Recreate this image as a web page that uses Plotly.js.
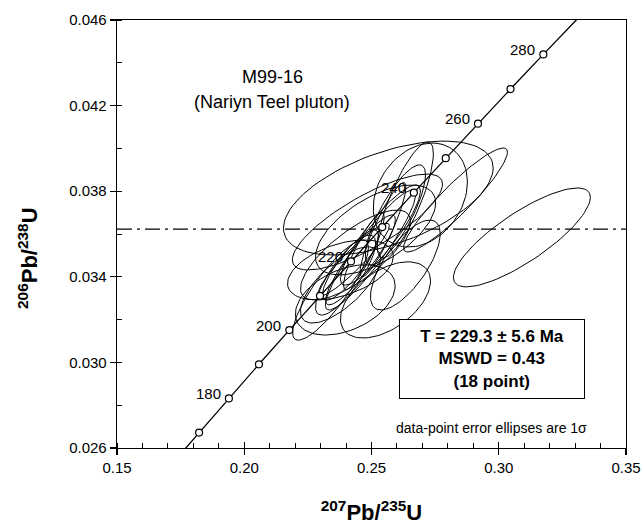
<!DOCTYPE html>
<html>
<head>
<meta charset="utf-8">
<script src="https://cdn.plot.ly/plotly-3.0.1.min.js"></script>
<style>html,body{margin:0;padding:0;background:#fff;}#chart{width:644px;height:525px;}</style>
</head>
<body>
<div id="chart"></div>
<script>
// Concordia age markers (Ma) and their ratios
const concAges = [160, 170, 180, 190, 200, 210, 220, 230, 240, 250, 260, 270, 280, 290];
const concX = [0.17067, 0.18226, 0.19396, 0.20577, 0.21771, 0.22976, 0.24193, 0.25422, 0.26664, 0.27917, 0.29183, 0.30462, 0.31753, 0.33057];
const concY = [0.025131, 0.026722, 0.028316, 0.029912, 0.031511, 0.033113, 0.034717, 0.036323, 0.037932, 0.039543, 0.041157, 0.042773, 0.044392, 0.046014];
const labelAges = [180, 200, 220, 240, 260, 280];

// Data-point error ellipses (1 sigma): centres, sigmas, correlation
const ellX   = [0.2566, 0.2484, 0.2378, 0.2397, 0.2555, 0.2830, 0.3091, 0.2692, 0.2633, 0.2594, 0.2496, 0.2457, 0.2417, 0.2535, 0.2398, 0.2437, 0.2378, 0.2516, 0.2339, 0.2633, 0.2545, 0.2470, 0.2430];
const ellY   = [0.03768, 0.03656, 0.03432, 0.03292, 0.03292, 0.03759, 0.03584, 0.03782, 0.03759, 0.03689, 0.03525, 0.03479, 0.03455, 0.03595, 0.03408, 0.03502, 0.03362, 0.03619, 0.03338, 0.03455, 0.03620, 0.03520, 0.03480];
const ellSx  = [0.0412, 0.0295, 0.0208, 0.0196, 0.0177, 0.0204, 0.0269, 0.0185, 0.0110, 0.0118, 0.0177, 0.0137, 0.0110, 0.0157, 0.0118, 0.0216, 0.0157, 0.0236, 0.0149, 0.0137, 0.0090, 0.0080, 0.0140];
const ellSy  = [0.00266, 0.00224, 0.00140, 0.00164, 0.00178, 0.00243, 0.00231, 0.00243, 0.00271, 0.00234, 0.00280, 0.00210, 0.00164, 0.00234, 0.00187, 0.00210, 0.00178, 0.00210, 0.00234, 0.00210, 0.00220, 0.00180, 0.00170];
const ellRho = [0.53, 0.79, 0.45, 0.40, 0.50, 0.92, 0.81, 0.25, 0.80, 0.80, 0.92, 0.90, 0.85, 0.88, 0.80, 0.75, 0.70, 0.60, 0.85, 0.70, 0.90, 0.88, 0.93];

// Weighted mean 206Pb/238U reference line
const meanY = 0.03623;
const xRange = [0.15, 0.35];
const yRange = [0.026, 0.046];

// Build ellipse outlines from their parameters
const ex = [], ey = [];
for (let i = 0; i < ellX.length; i++) {
  const r = ellRho[i], q = Math.sqrt(1 - r * r);
  for (let k = 0; k <= 90; k++) {
    const t = 2 * Math.PI * k / 90;
    ex.push(ellX[i] + ellSx[i] * Math.cos(t));
    ey.push(ellY[i] + ellSy[i] * (r * Math.cos(t) + q * Math.sin(t)));
  }
  ex.push(null); ey.push(null);
}

const mkIdx = concAges.map((a, i) => i).filter(i => concAges[i] >= 170 && concAges[i] <= 280);
const FONT = 'Liberation Sans, Arial, sans-serif';

const traces = [
  {x: ex, y: ey, mode: 'lines', line: {color: '#000', width: 1}, hoverinfo: 'skip', connectgaps: false},
  {x: xRange, y: [meanY, meanY], mode: 'lines', line: {color: '#000', width: 1.2, dash: '15px,5px,3px,5px'}},
  {x: concX, y: concY, mode: 'lines', line: {color: '#000', width: 1.3}},
  {x: mkIdx.map(i => concX[i]), y: mkIdx.map(i => concY[i]), mode: 'markers',
   marker: {symbol: 'circle', size: 7, color: '#fff', line: {color: '#000', width: 1.2}}, cliponaxis: false},
  {x: [0.2], y: [0.03], xaxis: 'x2', yaxis: 'y', mode: 'markers', marker: {opacity: 0}, hoverinfo: 'skip'}
];

const ann = labelAges.map(a => {
  const i = concAges.indexOf(a);
  return {x: concX[i], y: concY[i], xref: 'x', yref: 'y', text: String(a), showarrow: false,
          xanchor: 'right', yanchor: 'middle', xshift: -6, yshift: 5,
          font: {family: FONT, size: 15, color: '#000'}};
});
ann.push({x: 0.211, y: 0.04335, xref: 'x', yref: 'y', text: 'M99-16', showarrow: false,
  font: {family: FONT, size: 18, color: '#000'}});
ann.push({x: 0.211, y: 0.04218, xref: 'x', yref: 'y', text: '(Nariyn Teel pluton)', showarrow: false,
  font: {family: FONT, size: 18, color: '#000'}});
ann.push({x: 0.7365, y: 0.208, xref: 'paper', yref: 'paper', xanchor: 'center', yanchor: 'middle',
  text: '<b>T = 229.3 ± 5.6 Ma</b><br><b>MSWD = 0.43</b><br><b>(18 point)</b>', showarrow: false,
  width: 180, height: 74, align: 'center', bgcolor: '#fff', bordercolor: '#000', borderwidth: 1, borderpad: 2,
  font: {family: FONT, size: 17, color: '#000'}});
ann.push({x: 0.7365, y: 0.047, xref: 'paper', yref: 'paper', xanchor: 'center', yanchor: 'middle',
  text: 'data-point error ellipses are 1σ', showarrow: false,
  font: {family: FONT, size: 14, color: '#000'}});
ann.push({x: -0.176, y: 0.445, xref: 'paper', yref: 'paper', xanchor: 'center', yanchor: 'middle', textangle: -90,
  text: '<b><sup>206</sup>Pb/<sup>238</sup>U</b>', showarrow: false,
  font: {family: FONT, size: 22, color: '#000'}});

const tickFont = {family: FONT, size: 15, color: '#000'};
const layout = {
  width: 644, height: 525,
  margin: {l: 116.5, r: 18.3, t: 20, b: 77},
  paper_bgcolor: '#fff', plot_bgcolor: '#fff',
  showlegend: false,
  xaxis: {range: xRange, dtick: 0.05, tick0: 0.15, tickformat: '.2f', ticks: 'outside', ticklen: 6, tickwidth: 1.2,
    tickcolor: '#000', showgrid: false, zeroline: false, showline: true, linecolor: '#000', linewidth: 1.3, mirror: true,
    tickfont: tickFont, minor: {dtick: 0.01, ticks: 'inside', ticklen: 5, tickcolor: '#000', tickwidth: 1, showgrid: false},
    title: {text: '<b><sup>207</sup>Pb/<sup>235</sup>U</b>', standoff: 32, font: {family: FONT, size: 22, color: '#000'}},
    automargin: false},
  xaxis2: {range: xRange, overlaying: 'x', anchor: 'y', side: 'bottom', dtick: 0.05, tick0: 0.15, ticks: 'inside', ticklen: 6,
    tickwidth: 1.2, tickcolor: '#000', showticklabels: false, showgrid: false, zeroline: false, showline: false},
  yaxis: {range: yRange, dtick: 0.004, tick0: 0.026, tickformat: '.3f', ticks: 'outside', ticklen: 6, tickwidth: 1.2,
    tickcolor: '#000', showgrid: false, zeroline: false, showline: true, linecolor: '#000', linewidth: 1.3, mirror: true,
    tickfont: tickFont, minor: {dtick: 0.002, ticks: 'inside', ticklen: 5, tickcolor: '#000', tickwidth: 1, showgrid: false},
    automargin: false},
  annotations: ann
};
Plotly.newPlot('chart', traces, layout, {displayModeBar: false, staticPlot: true});
</script>
</body>
</html>
